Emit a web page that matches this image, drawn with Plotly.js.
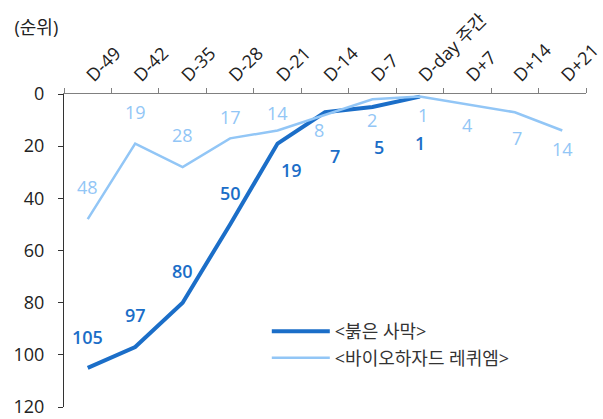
<!DOCTYPE html>
<html><head><meta charset="utf-8">
<script src="https://cdn.plot.ly/plotly-3.0.1.min.js"></script>
<style>html,body{margin:0;padding:0;background:#fff}#chart{width:603px;height:419px}</style>
</head><body><div id="chart"></div>
<script>
const categories = ['D-49','D-42','D-35','D-28','D-21','D-14','D-7','D-day 주간','D+7','D+14','D+21'];
const seriesNames = ['<붉은 사막>', '<바이오하자드 레퀴엠>'];
const crimsonDesert = [105, 97, 80, 50, 19, 7, 5, 1];
const residentEvil = [48, 19, 28, 17, 14, 8, 2, 1, 4, 7, 14];
const yTicks = [0, 20, 40, 60, 80, 100, 120];

// label offsets in pixels (styling only)
const darkShift = [[0,31],[0,32],[0,32],[0,31],[14,-26],[10,-44],[7,-40],[0,-46]];
const lightShift = [[0,32],[0,32],[0,32],[0,21],[0,18],[-6,-15],[0,-21],[3,-18],[0,-21],[2,-26],[0,-18]];

const darkColor = '#1b6ec8';
const lightColor = '#92c6f6';
const FONT = '"Open Sans", "Noto Sans CJK KR", sans-serif';

const traces = [
  {x: categories.slice(0, crimsonDesert.length), y: crimsonDesert, name: seriesNames[0], type: 'scatter', mode: 'lines',
   line: {color: darkColor, width: 4}, hoverinfo: 'skip'},
  {x: categories, y: residentEvil, name: seriesNames[1], type: 'scatter', mode: 'lines',
   line: {color: lightColor, width: 2.5}, hoverinfo: 'skip'}
];

const annotations = [];
crimsonDesert.forEach((v, i) => annotations.push({
  x: categories[i], y: v, xref: 'x', yref: 'y', text: String(v), showarrow: false,
  xshift: darkShift[i][0], yshift: darkShift[i][1],
  font: {family: FONT, size: 18, color: darkColor, weight: 600}
}));
residentEvil.forEach((v, i) => annotations.push({
  x: categories[i], y: v, xref: 'x', yref: 'y', text: String(v), showarrow: false,
  xshift: lightShift[i][0], yshift: lightShift[i][1],
  font: {family: FONT, size: 18, color: lightColor, weight: 500}
}));

const layout = {
  width: 603, height: 419,
  margin: {l: 63.5, r: 16.5, t: 94, b: 12},
  paper_bgcolor: '#fff', plot_bgcolor: '#fff',
  font: {family: FONT, size: 17, color: '#222'},
  title: {text: '(순위)', x: 0.024, xanchor: 'left', y: 0.933, yanchor: 'middle', font: {family: FONT, size: 18, color: '#222'}},
  showlegend: true,
  legend: {x: 0.3885, y: 0.30, xanchor: 'left', yanchor: 'top', bgcolor: 'rgba(0,0,0,0)',
           font: {family: FONT, size: 18, color: '#333'}, itemwidth: 58, tracegroupgap: 0},
  xaxis: {type: 'category', side: 'top', tickangle: -45, showgrid: false, zeroline: false,
          showline: true, linecolor: '#808080', linewidth: 1.5, ticks: 'outside', tickson: 'boundaries',
          ticklen: 5, tickcolor: '#808080', tickfont: {family: FONT, size: 18, color: '#222'},
          range: [-0.5, categories.length - 0.5], fixedrange: true},
  yaxis: {range: [120, 0], tickvals: yTicks, ticktext: yTicks.map(String), showgrid: false, zeroline: false,
          showline: true, linecolor: '#333', linewidth: 1, ticks: 'outside', ticklen: 5, tickcolor: '#333',
          ticklabelstandoff: 10, tickfont: {family: FONT, size: 18, color: '#222'}, fixedrange: true},
  annotations: annotations
};

Plotly.newPlot('chart', traces, layout, {displayModeBar: false, staticPlot: true});
</script></body></html>
